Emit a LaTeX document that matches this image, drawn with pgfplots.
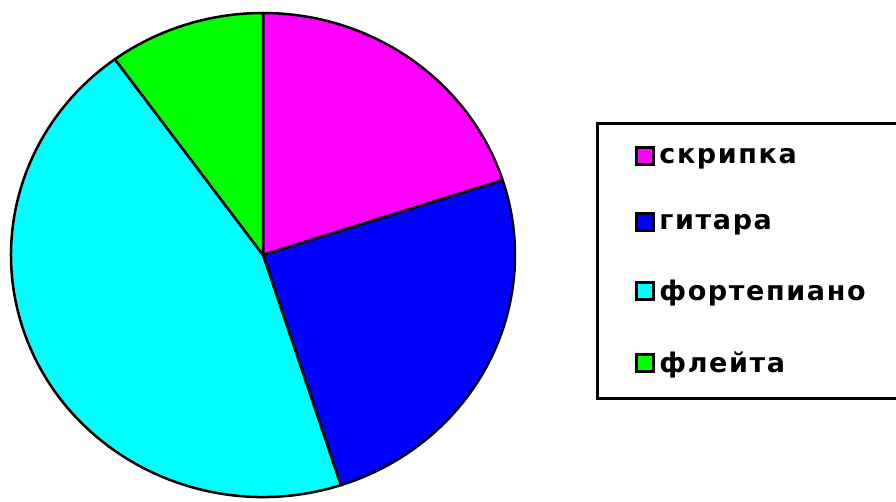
\documentclass[border=0pt]{standalone}
\usepackage{pgfplots}
\pgfplotsset{compat=1.18}
\usepackage{pgfplotstable}
\usepackage{fontspec}
\setmainfont{DejaVu Sans}
\newfontfamily\legfont[LetterSpace=6]{DejaVu Sans}

\definecolor{pieMagenta}{RGB}{255,0,255}
\definecolor{pieBlue}{RGB}{0,0,255}
\definecolor{pieCyan}{RGB}{0,255,255}
\definecolor{pieGreen}{RGB}{0,255,0}

% share of each instrument, clockwise from the top
\pgfplotstableread{
value colour
20 pieMagenta
25 pieBlue
45 pieCyan
10 pieGreen
}\piedata

% build the slices once, angles accumulated from 90 degrees
\def\pieslices{}
\def\curang{90}
\pgfplotstablegetrowsof{\piedata}
\pgfmathtruncatemacro\lastrow{\pgfplotsretval-1}
\pgfplotsforeachungrouped \rowi in {0,...,\lastrow}{%
  \pgfplotstablegetelem{\rowi}{value}\of\piedata \let\sliceval=\pgfplotsretval
  \pgfplotstablegetelem{\rowi}{colour}\of\piedata \let\slicecol=\pgfplotsretval
  \pgfmathsetmacro\nextang{\curang-3.6*\sliceval}%
  \edef\pieslices{\unexpanded\expandafter{\pieslices}%
    \noexpand\filldraw[fill=\slicecol, draw=black, line width=2.5pt, line join=round]
    (axis cs:0,0) -- (axis cs:{cos(\curang)},{sin(\curang)})
    arc[start angle=\curang, end angle=\nextang, radius=1] -- cycle;}%
  \let\curang=\nextang
}

\begin{document}
\begin{tikzpicture}
\useasboundingbox (0pt,0pt) rectangle (896pt,501pt);
\begin{axis}[
    at={(11pt,4pt)}, anchor=south west,
    scale only axis, width=504pt, height=484pt,
    xmin=-1, xmax=1, ymin=-1, ymax=1,
    hide axis, clip=false,
    legend image code/.code={%
        \filldraw[#1, draw=black, line width=3pt] (1.5pt,-8.5pt) rectangle (18.5pt,8.5pt);},
    legend cell align=left,
    legend style={
        at={(1.1605,0.7758)}, anchor=north west,
        draw=black, line width=3pt,
        inner xsep=38pt, inner ysep=23pt,
        column sep=2pt, row sep=45.5pt,
        font=\legfont\bfseries\fontsize{27}{31}\selectfont,
    },
]
\pieslices
\addlegendimage{fill=pieMagenta}\addlegendentry{скрипка}
\addlegendimage{fill=pieBlue}\addlegendentry{гитара}
\addlegendimage{fill=pieCyan}\addlegendentry{фортепиано}
\addlegendimage{fill=pieGreen}\addlegendentry{флейта}
\end{axis}
\end{tikzpicture}
\end{document}
